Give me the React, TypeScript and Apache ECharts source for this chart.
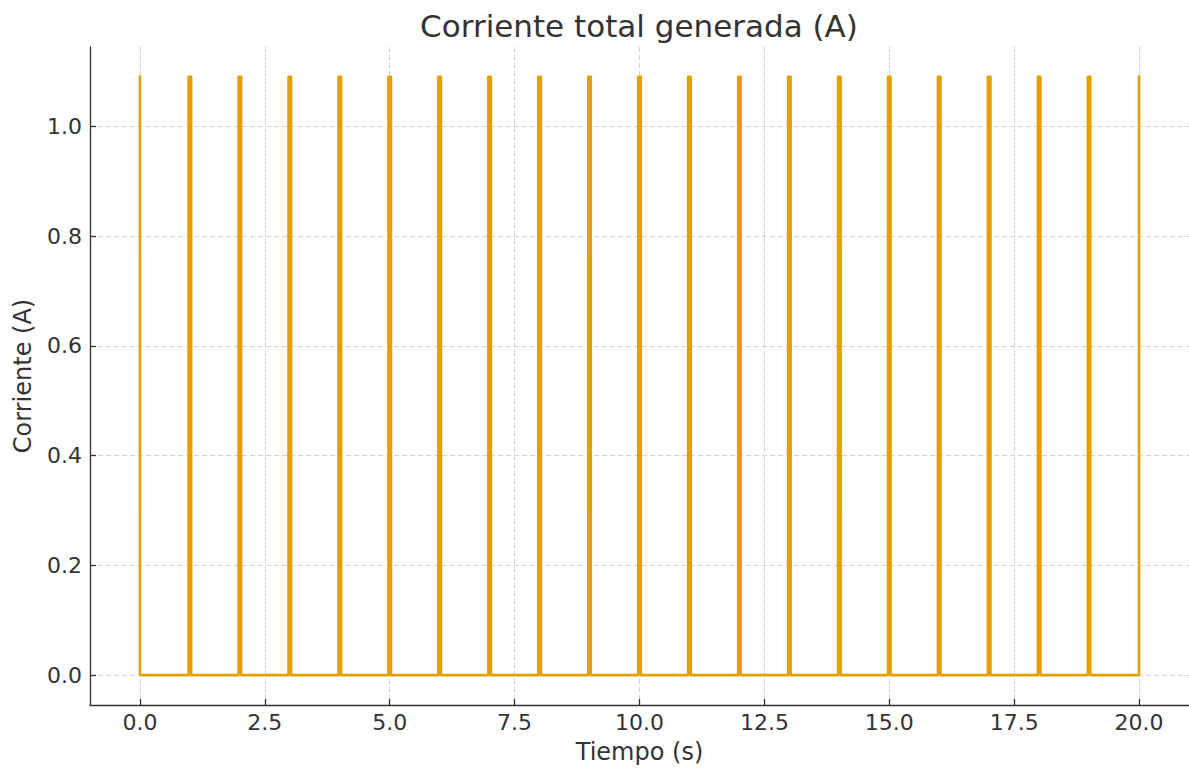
import React, { useEffect, useRef } from "react";
import * as echarts from "echarts";

// Pulse data (time in s, current in A)
const pulseStart = [
  0, 0.975, 1.975, 2.975, 3.975, 4.975, 5.975, 6.975, 7.975, 8.975, 9.975,
  10.975, 11.975, 12.975, 13.975, 14.975, 15.975, 16.975, 17.975, 18.975, 20,
];
const pulseEnd = [
  0, 1.025, 2.025, 3.025, 4.025, 5.025, 6.025, 7.025, 8.025, 9.025, 10.025,
  11.025, 12.025, 13.025, 14.025, 15.025, 16.025, 17.025, 18.025, 19.025, 20,
];
const peakCurrent = 1.09;
const baseCurrent = 0;

const xTicks = [0, 2.5, 5, 7.5, 10, 12.5, 15, 17.5, 20];
const yTicks = [0, 0.2, 0.4, 0.6, 0.8, 1.0];

const titleText = "Corriente total generada (A)";
const xName = "Tiempo (s)";
const yName = "Corriente (A)";

function buildData(): number[][] {
  const pts: number[][] = [];
  const last = pulseStart.length - 1;
  for (let i = 0; i <= last; i++) {
    if (i > 0) pts.push([pulseStart[i], baseCurrent]);
    pts.push([pulseStart[i], peakCurrent]);
    pts.push([pulseEnd[i], peakCurrent]);
    if (i < last) pts.push([pulseEnd[i], baseCurrent]);
  }
  return pts;
}

const FONT = "DejaVu Sans";
const TEXT = "#333333";
const AXIS = "#333333";

export default function App() {
  const ref = useRef<HTMLDivElement>(null);
  useEffect(() => {
    if (!ref.current) return;
    const chart = echarts.init(ref.current, undefined, { renderer: "svg" });
    const dataMin = 0;
    const dataMax = 20;
    const yMax = peakCurrent;
    const xPad = (dataMax - dataMin) * 0.05;
    const yPad = yMax * 0.05;
    chart.setOption({
      animation: false,
      backgroundColor: "#ffffff",
      textStyle: { fontFamily: FONT },
      graphic: [
        {
          type: "text",
          x: 639,
          y: 26,
          style: {
            text: titleText,
            fontFamily: FONT,
            fontSize: 31,
            fill: TEXT,
            textAlign: "center",
            textVerticalAlign: "middle",
          },
        },
      ],
      grid: { left: 90, right: 0, top: 47, bottom: 67, containLabel: false },
      xAxis: {
        type: "value",
        min: dataMin - xPad,
        max: dataMax + xPad,
        name: xName,
        nameLocation: "middle",
        nameGap: 35,
        nameTextStyle: { fontFamily: FONT, fontSize: 24, color: TEXT },
        axisLine: { show: true, onZero: false, lineStyle: { color: AXIS, width: 1.3 } },
        axisTick: {
          show: true,
          inside: true,
          length: 6,
          customValues: xTicks,
          lineStyle: { color: AXIS, width: 1.3 },
        },
        axisLabel: {
          customValues: xTicks,
          margin: 6,
          fontFamily: FONT,
          fontSize: 22,
          color: TEXT,
          formatter: (v: number) => v.toFixed(1),
        },
        splitLine: {
          show: true,
          lineStyle: { color: "#cccccc", width: 0.9, type: [5, 3] },
        },
      },
      yAxis: {
        type: "value",
        min: baseCurrent - yPad,
        max: yMax + yPad,
        name: yName,
        nameLocation: "middle",
        nameGap: 55,
        nameTextStyle: { fontFamily: FONT, fontSize: 24, color: TEXT },
        axisLine: { show: true, onZero: false, lineStyle: { color: AXIS, width: 1.3 } },
        axisTick: {
          show: true,
          inside: true,
          length: 6,
          customValues: yTicks,
          lineStyle: { color: AXIS, width: 1.3 },
        },
        axisLabel: {
          customValues: yTicks,
          margin: 8,
          fontFamily: FONT,
          fontSize: 22,
          color: TEXT,
          formatter: (v: number) => v.toFixed(1),
        },
        splitLine: {
          show: true,
          lineStyle: { color: "#cccccc", width: 0.9, type: [5, 3] },
        },
      },
      series: [
        {
          type: "line",
          data: buildData(),
          showSymbol: false,
          symbol: "none",
          lineStyle: { color: "#E69F00", width: 2.6, join: "round", cap: "square" },
          z: 3,
        },
      ],
    });
    return () => chart.dispose();
  }, []);
  return (
    <div
      ref={ref}
      style={{ position: "absolute", left: 0, top: 0, width: 1189, height: 772, background: "#fff" }}
    />
  );
}
